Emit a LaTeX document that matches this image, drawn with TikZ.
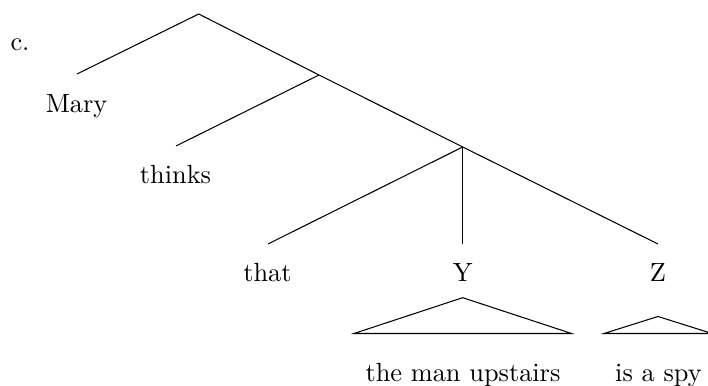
\documentclass[tikz,border=0pt]{standalone}
\begin{document}
\begin{tikzpicture}[x=0.38pt,y=-0.38pt,
  lbl/.style={anchor=base,inner sep=0pt,font=\fontsize{10}{12}\selectfont},
  edge/.style={line width=0.4pt}]
\useasboundingbox (0,0) rectangle (708,386);
\clip (0,0) rectangle (708,386);
% text
\node[lbl,anchor=base west] (c) at (10,51) {c.};
\node[lbl] (mary) at (76.5,112.7) {Mary};
\node[lbl] (thinks) at (175.5,184) {thinks};
\node[lbl] (that) at (267.5,281.7) {that};
\node[lbl] (Y) at (462.7,281.7) {Y};
\node[lbl] (Z) at (658,281.7) {Z};
\node[lbl] (tmu) at (463,381.7) {the man upstairs};
\node[lbl] (spy) at (658.5,381.2) {is a spy};
% branching points
\coordinate (root) at (198.7,14);
\coordinate (n1) at (319,75);
\coordinate (n2) at (462.7,147);
% line ends
\coordinate (emary) at (77,74);
\coordinate (ethinks) at (176,146);
\coordinate (ethat) at (268,244);
\coordinate (eY) at (462.7,244);
\coordinate (eZ) at (658,244);
% edges
\draw[edge] (emary) -- (root) -- (n1) -- (n2) -- (eZ);
\draw[edge] (n1) -- (ethinks);
\draw[edge] (n2) -- (ethat);
\draw[edge] (n2) -- (eY);
% triangles
\coordinate (tYa) at (462.7,297.7);
\coordinate (tYl) at (354,333.5);
\coordinate (tYr) at (571.5,333.5);
\draw[edge] (tYl) -- (tYa) -- (tYr) -- cycle;
\coordinate (tZa) at (658,316.5);
\coordinate (tZl) at (604,333.5);
\coordinate (tZr) at (712,333.5);
\draw[edge] (tZl) -- (tZa) -- (tZr) -- cycle;
\end{tikzpicture}
\end{document}
